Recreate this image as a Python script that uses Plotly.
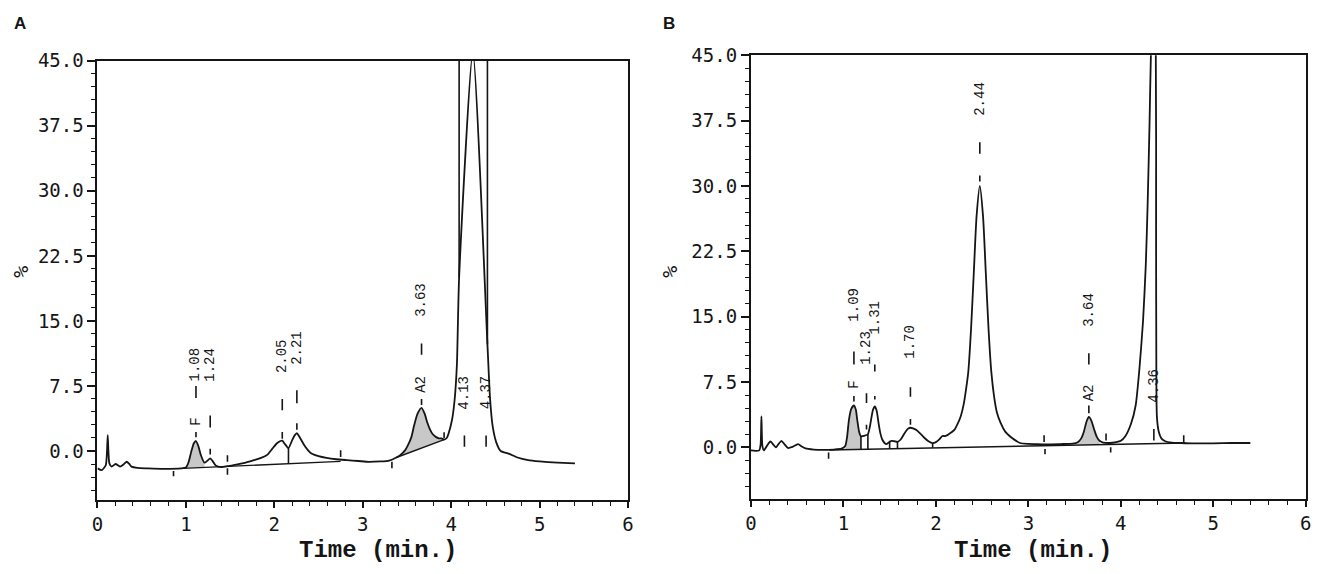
import plotly.graph_objects as go

# ---------------- panel A : chromatogram (time in min, signal in %) ----------------
a_t = [0.0, 0.05, 0.094, 0.108, 0.116, 0.124, 0.135, 0.16, 0.205, 0.255, 0.30, 0.33, 0.36,
       0.385, 0.45, 0.57, 0.75, 0.945, 1.0, 1.03, 1.06, 1.09, 1.114, 1.14, 1.17, 1.21, 1.245,
       1.275, 1.305, 1.34, 1.40, 1.47, 1.55, 1.65, 1.77, 1.85, 1.92, 1.98, 2.03, 2.07, 2.09,
       2.12, 2.16, 2.20, 2.23, 2.255, 2.28, 2.33, 2.38, 2.42, 2.50, 2.59, 2.70, 2.82, 2.95,
       3.04, 3.20, 3.30, 3.38, 3.43, 3.48, 3.51, 3.55, 3.58, 3.62, 3.665, 3.70, 3.73, 3.76,
       3.79, 3.83, 3.86, 3.89, 3.92, 3.95, 3.97, 4.01, 4.04, 4.065, 4.09, 4.245, 4.41, 4.44,
       4.47, 4.51, 4.56, 4.65, 4.75, 4.87, 5.0, 5.2, 5.40]
a_v = [-2.0, -2.2, -1.64, 0.0, 1.84, 0.0, -1.43, -1.8, -1.5, -1.8, -1.5, -1.24, -1.5,
       -1.8, -1.95, -2.0, -2.05, -2.0, -1.9, -1.3, -0.1, 0.9, 1.15, 0.6, -0.49, -1.35, -1.1,
       -0.85, -1.2, -1.7, -1.85, -1.75, -1.6, -1.4, -1.05, -0.8, -0.45, 0.3, 0.9, 1.15, 1.2,
       0.8, 0.34, 1.2, 1.8, 2.07, 1.7, 0.82, 0.1, -0.3, -0.6, -0.8, -0.95, -1.05, -1.15,
       -1.24, -1.2, -1.1, -0.75, -0.42, 0.1, 0.64, 1.6, 2.9, 4.3, 4.98, 4.3, 3.28, 2.5,
       1.96, 1.6, 1.47, 1.45, 1.32, 1.5, 2.0, 3.6, 6.0, 10.0, 20.0, 46.0, 12.3, 6.0,
       2.8, 1.0, 0.0, -0.3, -0.75, -1.05, -1.2, -1.35, -1.43]

# off-scale pen strokes of the big peak
a_over_x = [4.09, 4.41]
a_over_lo = [20.0, 12.3]

# integration baselines (segments)
a_base_x0 = [0.97, 3.38]
a_base_y0 = [-2.0, -0.75]
a_base_x1 = [2.75, 3.92]
a_base_y1 = [-1.2, 1.32]

# shaded peaks: start/end time and baseline level at both ends
a_fill_x0 = [1.0, 3.38]
a_fill_x1 = [1.21, 3.92]
a_fill_b0 = [-1.95, -0.75]
a_fill_b1 = [-1.9, 1.32]

# small vertical marks (peak markers, event ticks, drop lines)
a_mark_x = [1.114, 1.114, 1.275, 1.275, 2.09, 2.09, 2.255, 2.255, 3.665, 3.665, 4.15, 4.395,
            0.86, 1.47, 1.47, 2.75, 3.33, 3.92, 2.16]
a_mark_lo = [1.6, 6.1, -0.4, 2.7, 1.4, 4.7, 2.45, 5.5, 5.3, 11.1, 0.5, 0.5,
             -2.9, -2.75, -1.24, -0.68, -2.0, 1.47, -1.47]
a_mark_hi = [2.2, 7.5, 0.26, 4.1, 2.2, 6.0, 3.2, 7.0, 6.0, 12.4, 1.8, 1.8,
             -2.3, -2.0, -0.5, 0.08, -1.24, 2.15, 0.34]

a_lbl_x = [1.114, 1.114, 1.275, 2.09, 2.255, 3.665, 3.665, 4.15, 4.395]
a_lbl_y = [2.8, 7.9, 7.9, 8.9, 9.8, 6.6, 15.3, 4.7, 4.7]
a_lbl_txt = ["F", "1.08", "1.24", "2.05", "2.21", "A2", "3.63", "4.13", "4.37"]

# ---------------- panel B ----------------
b_t = [0.0, 0.05, 0.09, 0.105, 0.114, 0.124, 0.14, 0.175, 0.21, 0.24, 0.27, 0.30, 0.33, 0.36,
       0.40, 0.45, 0.51, 0.55, 0.59, 0.68, 0.77, 0.9, 0.98, 1.02, 1.04, 1.06, 1.085, 1.114,
       1.135, 1.15, 1.17, 1.19, 1.21, 1.232, 1.265, 1.285, 1.30, 1.32, 1.34, 1.36, 1.38, 1.40,
       1.42, 1.445, 1.465, 1.49, 1.52, 1.55, 1.585, 1.62, 1.66, 1.70, 1.725, 1.76, 1.79, 1.83,
       1.875, 1.92, 1.965, 2.0, 2.04, 2.07, 2.10, 2.125, 2.165, 2.20, 2.24, 2.27, 2.30, 2.32,
       2.35, 2.38, 2.41, 2.44, 2.475, 2.51, 2.54, 2.57, 2.60, 2.63, 2.66, 2.70, 2.75, 2.80,
       2.86, 2.91, 3.0, 3.09, 3.2, 3.35, 3.48, 3.53, 3.57, 3.60, 3.63, 3.654, 3.68, 3.71,
       3.74, 3.77, 3.81, 3.88, 3.95, 4.0, 4.05, 4.11, 4.16, 4.20, 4.24, 4.27, 4.29, 4.31,
       4.325, 4.35, 4.378, 4.381, 4.384, 4.39, 4.41, 4.44, 4.48, 4.55, 4.65, 4.8, 5.0, 5.2, 5.4]
b_v = [-0.35, -0.4, -0.35, 0.3, 3.56, 0.2, -0.35, 0.2, 0.67, 0.35, 0.0, 0.4, 0.75, 0.4,
       -0.07, 0.05, 0.37, 0.1, -0.11, -0.25, -0.3, -0.25, -0.15, 0.15, 1.2, 3.15, 4.4, 4.8,
       4.3, 3.15, 1.8, 1.27, 1.3, 1.35, 1.5, 2.3, 3.2, 4.3, 4.7, 4.2, 2.8, 1.6,
       0.9, 0.5, 0.37, 0.55, 0.75, 0.7, 0.62, 0.9, 1.6, 2.15, 2.25, 2.15, 2.0, 1.6,
       1.1, 0.7, 0.49, 0.6, 0.95, 1.3, 1.3, 1.4, 1.7, 2.0, 2.8, 3.6, 4.9, 6.2,
       8.6, 13.5, 20.0, 26.5, 30.0, 26.5, 20.0, 13.5, 8.6, 5.8, 4.0, 2.8, 1.8, 1.27,
       0.8, 0.5, 0.4, 0.37, 0.35, 0.38, 0.42, 0.55, 1.0, 1.8, 3.0, 3.5, 3.1, 2.1,
       1.2, 0.75, 0.55, 0.5, 0.6, 0.75, 1.3, 2.7, 4.8, 8.9, 14.5, 21.0, 28.0, 37.0,
       45.0, 52.0, 45.0, 25.0, 8.0, 3.5, 1.8, 1.0, 0.7, 0.55, 0.5, 0.45, 0.45, 0.5, 0.5]

b_base_x0 = [0.85]
b_base_y0 = [-0.3]
b_base_x1 = [4.70]
b_base_y1 = [0.5]

b_fill_x0 = [1.02, 3.53]
b_fill_x1 = [1.19, 3.77]
b_fill_b0 = [-0.26, 0.35]
b_fill_b1 = [-0.23, 0.38]

b_mark_x = [1.114, 1.114, 1.25, 1.25, 1.34, 1.34, 1.725, 1.725, 2.475, 2.475, 3.654, 3.654, 4.357,
            0.84, 3.17, 3.18, 3.84, 3.89, 4.68,
            1.19, 1.265, 1.50, 1.585, 1.965]
b_mark_lo = [5.25, 9.5, 2.06, 5.1, 5.5, 8.7, 2.6, 5.8, 30.5, 33.7, 3.9, 9.5, 0.8,
             -1.3, 0.6, -0.8, 0.8, -0.6, 0.6,
             -0.23, -0.21, -0.15, -0.13, -0.05]
b_mark_hi = [5.9, 11.0, 2.6, 6.2, 5.9, 9.5, 3.26, 6.9, 31.2, 35.0, 4.8, 10.8, 2.1,
             -0.6, 1.4, -0.2, 1.6, 0.0, 1.4,
             1.27, 1.5, 0.75, 0.62, 0.49]

b_lbl_x = [1.114, 1.114, 1.25, 1.34, 1.725, 2.475, 3.654, 3.654, 4.357]
b_lbl_y = [6.6, 14.3, 9.3, 12.8, 10.1, 37.9, 5.2, 13.7, 5.0]
b_lbl_txt = ["F", "1.09", "1.23", "1.31", "1.70", "2.44", "A2", "3.64", "4.36"]

x_ticks = [0, 1, 2, 3, 4, 5, 6]
y_ticks = [0.0, 7.5, 15.0, 22.5, 30.0, 37.5, 45.0]

INK = "#151515"
SHADE = "#c8c8c8"
TICK_FONT_Y = dict(family="DejaVu Sans Mono", size=19, color=INK)
TICK_FONT_X = dict(family="DejaVu Sans Mono", size=19, color=INK)
LBL_FONT = dict(family="Liberation Mono, Courier New, monospace", size=14, color=INK)

W, H = 1325, 574


def segs(xs, lo, hi):
    sx, sy = [], []
    for x, a, b in zip(xs, lo, hi):
        sx += [x, x, None]
        sy += [a, b, None]
    return sx, sy


def lines(x0, y0, x1, y1):
    sx, sy = [], []
    for a, b, c, d in zip(x0, y0, x1, y1):
        sx += [a, c, None]
        sy += [b, d, None]
    return sx, sy


fig = go.Figure()

panels = [
    ("x", "y", a_t, a_v, a_fill_x0, a_fill_x1, a_fill_b0, a_fill_b1,
     a_base_x0, a_base_y0, a_base_x1, a_base_y1, a_mark_x, a_mark_lo, a_mark_hi),
    ("x2", "y2", b_t, b_v, b_fill_x0, b_fill_x1, b_fill_b0, b_fill_b1,
     b_base_x0, b_base_y0, b_base_x1, b_base_y1, b_mark_x, b_mark_lo, b_mark_hi),
]

for (xr, yr, t, v, fx0, fx1, fb0, fb1, bx0, by0, bx1, by1, mx, mlo, mhi) in panels:
    # shaded peak areas
    for x0, x1, b0, b1 in zip(fx0, fx1, fb0, fb1):
        px = [tt for tt in t if x0 <= tt <= x1]
        py = [vv for tt, vv in zip(t, v) if x0 <= tt <= x1]
        fig.add_trace(go.Scatter(x=px + [x1, x0], y=py + [b1, b0], fill="toself",
                                 fillcolor=SHADE, line=dict(width=0), mode="lines",
                                 xaxis=xr, yaxis=yr, showlegend=False, hoverinfo="skip"))
    # integration baselines
    sx, sy = lines(bx0, by0, bx1, by1)
    fig.add_trace(go.Scatter(x=sx, y=sy, mode="lines", line=dict(color=INK, width=1.4),
                             xaxis=xr, yaxis=yr, showlegend=False, hoverinfo="skip"))
    # short vertical marks
    sx, sy = segs(mx, mlo, mhi)
    fig.add_trace(go.Scatter(x=sx, y=sy, mode="lines", line=dict(color=INK, width=1.6),
                             xaxis=xr, yaxis=yr, showlegend=False, hoverinfo="skip"))
    # detector trace
    fig.add_trace(go.Scatter(x=t, y=v, mode="lines",
                             line=dict(color=INK, width=1.8, shape="spline", smoothing=0.6),
                             xaxis=xr, yaxis=yr, showlegend=False, hoverinfo="skip"))

# off-scale strokes in A
sx, sy = segs(a_over_x, a_over_lo, [y_ticks[-1]] * len(a_over_x))
fig.add_trace(go.Scatter(x=sx, y=sy, mode="lines", line=dict(color=INK, width=1.6),
                         xaxis="x", yaxis="y", showlegend=False, hoverinfo="skip"))

annotations = []
for xr, yr, lx, ly, lt in [("x", "y", a_lbl_x, a_lbl_y, a_lbl_txt),
                           ("x2", "y2", b_lbl_x, b_lbl_y, b_lbl_txt)]:
    for x, y, s in zip(lx, ly, lt):
        annotations.append(dict(x=x, y=y, xref=xr, yref=yr, text=s, textangle=-90,
                                xanchor="center", yanchor="bottom", showarrow=False,
                                font=LBL_FONT, borderpad=0))

TITLE_FONT = dict(family="Liberation Mono, Courier New, monospace", size=24, color=INK)
for cx, letter, px_pct, tx in [(14, "A", 15, 375), (669, "B", 670, 1036)]:
    annotations.append(dict(x=cx / W, y=1 - 13 / H, xref="paper", yref="paper", text=f"<b>{letter}</b>",
                            showarrow=False, xanchor="center", yanchor="middle",
                            font=dict(family="Liberation Sans, Arial", size=17, color=INK)))
    annotations.append(dict(x=px_pct / W, y=1 - 266 / H, xref="paper", yref="paper", text="%",
                            textangle=-90, showarrow=False, xanchor="center", yanchor="middle",
                            font=dict(family="DejaVu Sans Mono", size=20, color=INK)))
    annotations.append(dict(x=tx / W, y=1 - 550 / H, xref="paper", yref="paper",
                            text="<b>Time (min.)</b>", showarrow=False, xanchor="center",
                            yanchor="middle", font=TITLE_FONT))


def xaxis(dom, anchor):
    return dict(domain=dom, anchor=anchor, range=[0, 6], tickvals=x_ticks, ticks="outside",
                ticklen=6, tickwidth=1.6, tickcolor=INK, showline=True, linewidth=2, linecolor=INK,
                mirror=True, showgrid=False, zeroline=False, tickfont=TICK_FONT_X,
                minor=dict(dtick=0.2, tick0=0, ticks="outside", ticklen=4, tickwidth=1.4,
                           tickcolor=INK, showgrid=False))


def yaxis(dom, anchor, lo):
    return dict(domain=dom, anchor=anchor, range=[lo, 45], tickvals=y_ticks, tickformat=".1f",
                ticks="outside", ticklen=8, tickwidth=1.6, tickcolor=INK, showline=True,
                linewidth=2, linecolor=INK, mirror=True, showgrid=False, zeroline=False,
                tickfont=TICK_FONT_Y,
                minor=dict(dtick=1.5, tick0=0, ticks="outside", ticklen=4, tickwidth=1.4,
                           tickcolor=INK, showgrid=False))


fig.update_layout(
    width=W, height=H,
    margin=dict(l=0, r=0, t=0, b=0),
    paper_bgcolor="white", plot_bgcolor="white",
    xaxis=xaxis([92.3 / W, 627.7 / W], "y"),
    yaxis=yaxis([1 - 499 / H, 1 - 50.7 / H], "x", -5.7),
    xaxis2=xaxis([751.7 / W, 1311.7 / W], "y2"),
    yaxis2=yaxis([1 - 497.3 / H, 1 - 45 / H], "x2", -5.9),
    annotations=annotations,
)

fig.write_html("out.html", config={"displayModeBar": False},
               post_script="document.body.style.margin='0';document.body.style.overflow='hidden';")
